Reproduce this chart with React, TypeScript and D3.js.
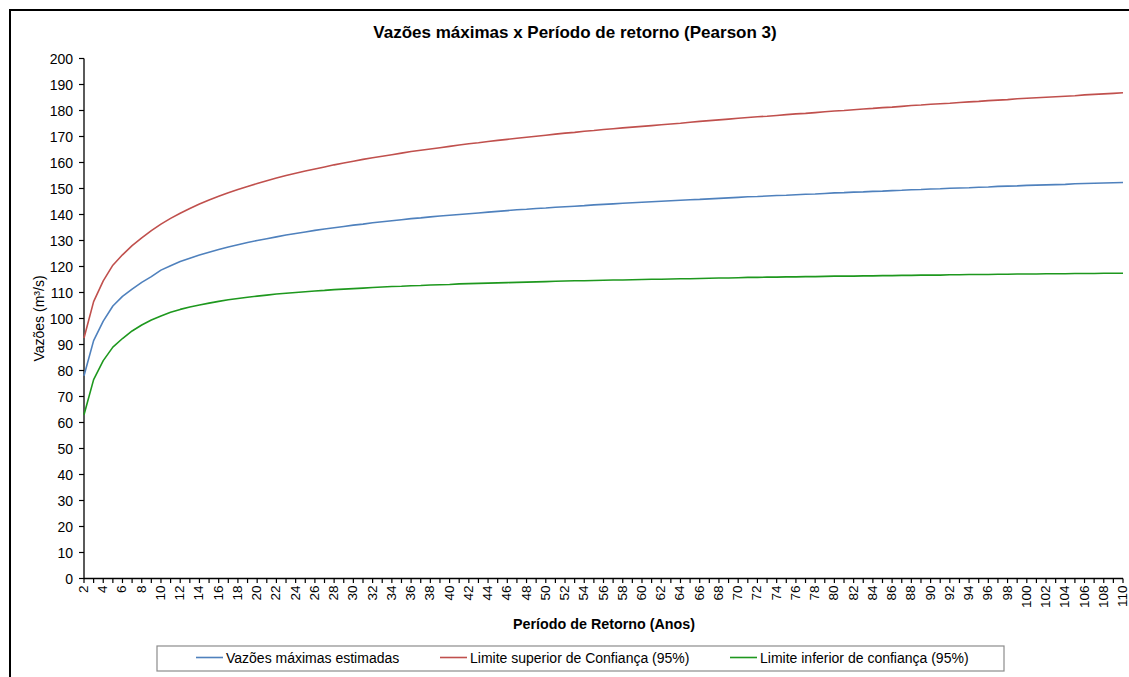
import React from "react";
import * as d3 from "d3";

const periods: number[] = [
  2, 3, 4, 5, 6, 7, 8, 9, 10, 11, 12, 13, 14, 15, 16, 17, 18, 19, 20, 21, 22, 23, 24, 25, 26, 27, 28, 29, 30,
  31, 32, 33, 34, 35, 36, 37, 38, 39, 40, 41, 42, 43, 44, 45, 46, 47, 48, 49, 50, 51, 52, 53, 54, 55, 56, 57, 58,
  59, 60, 61, 62, 63, 64, 65, 66, 67, 68, 69, 70, 71, 72, 73, 74, 75, 76, 77, 78, 79, 80, 81, 82, 83, 84, 85, 86,
  87, 88, 89, 90, 91, 92, 93, 94, 95, 96, 97, 98, 99, 100, 101, 102, 103, 104, 105, 106, 107, 108, 109, 110,
];

const estimated: number[] = [
  78.0, 91.5, 99.0, 104.8, 108.5, 111.3, 113.9, 116.1, 118.6, 120.3, 121.9, 123.2, 124.4, 125.5, 126.5, 127.5,
  128.4, 129.2, 130.0, 130.7, 131.4, 132.1, 132.7, 133.3, 133.9, 134.4, 134.9, 135.4, 135.9, 136.3, 136.8, 137.2,
  137.6, 138.0, 138.4, 138.7, 139.1, 139.4, 139.7, 140.0, 140.3, 140.6, 140.9, 141.2, 141.5, 141.8, 142.0, 142.3,
  142.5, 142.8, 143.0, 143.2, 143.4, 143.7, 143.9, 144.1, 144.3, 144.5, 144.7, 144.9, 145.1, 145.3, 145.5, 145.7,
  145.8, 146.0, 146.2, 146.4, 146.6, 146.8, 146.9, 147.1, 147.3, 147.4, 147.6, 147.8, 147.9, 148.1, 148.3, 148.4,
  148.6, 148.7, 148.9, 149.0, 149.2, 149.3, 149.5, 149.6, 149.8, 149.9, 150.1, 150.2, 150.3, 150.5, 150.6, 150.8,
  150.9, 151.0, 151.2, 151.3, 151.4, 151.5, 151.6, 151.8, 151.9, 152.0, 152.1, 152.2, 152.3,
];

const upperLimit: number[] = [
  92.5, 106.5, 114.5, 120.5, 124.5, 128.0, 131.0, 133.8, 136.3, 138.5, 140.5, 142.3, 144.0, 145.6, 147.0, 148.4,
  149.6, 150.8, 151.9, 153.0, 154.0, 155.0, 155.9, 156.7, 157.5, 158.3, 159.1, 159.8, 160.5, 161.2, 161.8, 162.4,
  163.0, 163.6, 164.2, 164.7, 165.2, 165.7, 166.2, 166.7, 167.2, 167.6, 168.1, 168.5, 168.9, 169.3, 169.7, 170.1,
  170.5, 170.9, 171.3, 171.6, 172.0, 172.3, 172.7, 173.0, 173.3, 173.6, 173.9, 174.2, 174.5, 174.8, 175.1, 175.5,
  175.8, 176.1, 176.4, 176.7, 177.0, 177.3, 177.6, 177.8, 178.1, 178.4, 178.7, 178.9, 179.2, 179.5, 179.8, 180.0,
  180.3, 180.6, 180.8, 181.1, 181.3, 181.6, 181.9, 182.1, 182.4, 182.6, 182.8, 183.1, 183.3, 183.5, 183.8, 184.0,
  184.2, 184.5, 184.7, 184.9, 185.1, 185.3, 185.5, 185.7, 186.0, 186.2, 186.4, 186.6, 186.8,
];

const lowerLimit: number[] = [
  63.0, 76.5, 83.8, 89.0, 92.3, 95.2, 97.5, 99.4, 101.0, 102.4, 103.5, 104.4, 105.2, 105.9, 106.6, 107.2,
  107.7, 108.2, 108.6, 109.0, 109.4, 109.7, 110.0, 110.3, 110.6, 110.8, 111.1, 111.3, 111.5, 111.7, 111.9, 112.1,
  112.3, 112.4, 112.6, 112.7, 112.9, 113.0, 113.1, 113.3, 113.4, 113.5, 113.6, 113.7, 113.8, 113.9, 114.0, 114.1,
  114.2, 114.3, 114.4, 114.5, 114.5, 114.6, 114.7, 114.8, 114.8, 114.9, 115.0, 115.1, 115.1, 115.2, 115.3, 115.3,
  115.4, 115.5, 115.6, 115.6, 115.7, 115.8, 115.8, 115.9, 115.9, 116.0, 116.0, 116.1, 116.1, 116.2, 116.3, 116.3,
  116.3, 116.4, 116.4, 116.5, 116.5, 116.6, 116.6, 116.7, 116.7, 116.7, 116.8, 116.8, 116.9, 116.9, 116.9, 117.0,
  117.0, 117.1, 117.1, 117.1, 117.2, 117.2, 117.2, 117.3, 117.3, 117.3, 117.4, 117.4, 117.4,
];

const yTicks: number[] = [0, 10, 20, 30, 40, 50, 60, 70, 80, 90, 100, 110, 120, 130, 140, 150, 160, 170, 180, 190, 200];

const seriesNames = [
  "Vazões máximas estimadas",
  "Limite superior de Confiança (95%)",
  "Limite inferior de confiança (95%)",
];
const seriesColors = ["#4F81BD", "#C0504D", "#1E981E"];
const seriesData = [estimated, upperLimit, lowerLimit];

const titleText = "Vazões máximas x Período de retorno (Pearson 3)";
const xTitle = "Período de Retorno (Anos)";
const yTitle = "Vazões (m³/s)";

const W = 1129;
const H = 677;
const FONT = "'Liberation Sans', Arial, sans-serif";

export default function App() {
  const x = d3.scaleLinear().domain([2, 110]).range([84, 1123]);
  const y = d3.scaleLinear().domain([0, 200]).range([578.5, 58.5]);
  const line = d3
    .line<[number, number]>()
    .x((d) => x(d[0]))
    .y((d) => y(d[1]));

  const legendItems = [
    { lx: 196, tx: 226 },
    { lx: 440, tx: 470 },
    { lx: 730, tx: 760 },
  ];

  return (
    <svg
      width={W}
      height={H}
      style={{ position: "absolute", left: 0, top: 0, background: "#fff" }}
      fontFamily={FONT}
    >
      <rect x={0} y={0} width={W} height={H} fill="#fff" />
      <rect x={10} y={10} width={1140} height={700} fill="none" stroke="#000" strokeWidth={2} />

      <text x={575} y={37.5} textAnchor="middle" fontSize={17} fontWeight="bold" fill="#000">
        {titleText}
      </text>

      {/* Y axis */}
      <line x1={84} x2={84} y1={y(200)} y2={y(0)} stroke="#000" strokeWidth={1.3} />
      {yTicks.map((t) => (
        <g key={"y" + t}>
          <line x1={79} x2={84} y1={y(t)} y2={y(t)} stroke="#000" strokeWidth={1.2} />
          <text x={73} y={y(t) + 5} textAnchor="end" fontSize={14} fill="#000">
            {t}
          </text>
        </g>
      ))}

      {/* X axis */}
      <line x1={x(2)} x2={x(110)} y1={y(0)} y2={y(0)} stroke="#000" strokeWidth={1.3} />
      {periods.map((p) => (
        <line key={"xt" + p} x1={x(p)} x2={x(p)} y1={y(0)} y2={y(0) + 4.5} stroke="#000" strokeWidth={1.2} />
      ))}
      {periods
        .filter((p) => p % 2 === 0)
        .map((p) => (
          <text
            key={"xl" + p}
            transform={`translate(${x(p) + 4},${y(0) + 7}) rotate(-90)`}
            textAnchor="end"
            fontSize={13.5}
            fill="#000"
          >
            {p}
          </text>
        ))}

      <text x={604} y={629} textAnchor="middle" fontSize={14.3} fontWeight="bold" fill="#000">
        {xTitle}
      </text>
      <text
        transform={`translate(44,318.5) rotate(-90)`}
        textAnchor="middle"
        fontSize={14}
        fill="#000"
      >
        {yTitle}
      </text>

      {/* Series */}
      {seriesData.map((vals, i) => (
        <path
          key={"s" + i}
          d={line(periods.map((p, j) => [p, vals[j]] as [number, number])) || ""}
          fill="none"
          stroke={seriesColors[i]}
          strokeWidth={1.6}
          strokeLinejoin="round"
        />
      ))}

      {/* Legend */}
      <rect x={157} y={646} width={847} height={25} fill="#fff" stroke="#8c8c8c" strokeWidth={1.2} />
      {legendItems.map((it, i) => (
        <g key={"lg" + i}>
          <line x1={it.lx} x2={it.lx + 27} y1={657.5} y2={657.5} stroke={seriesColors[i]} strokeWidth={1.6} />
          <text x={it.tx} y={663} fontSize={14} fill="#000">
            {seriesNames[i]}
          </text>
        </g>
      ))}
    </svg>
  );
}
